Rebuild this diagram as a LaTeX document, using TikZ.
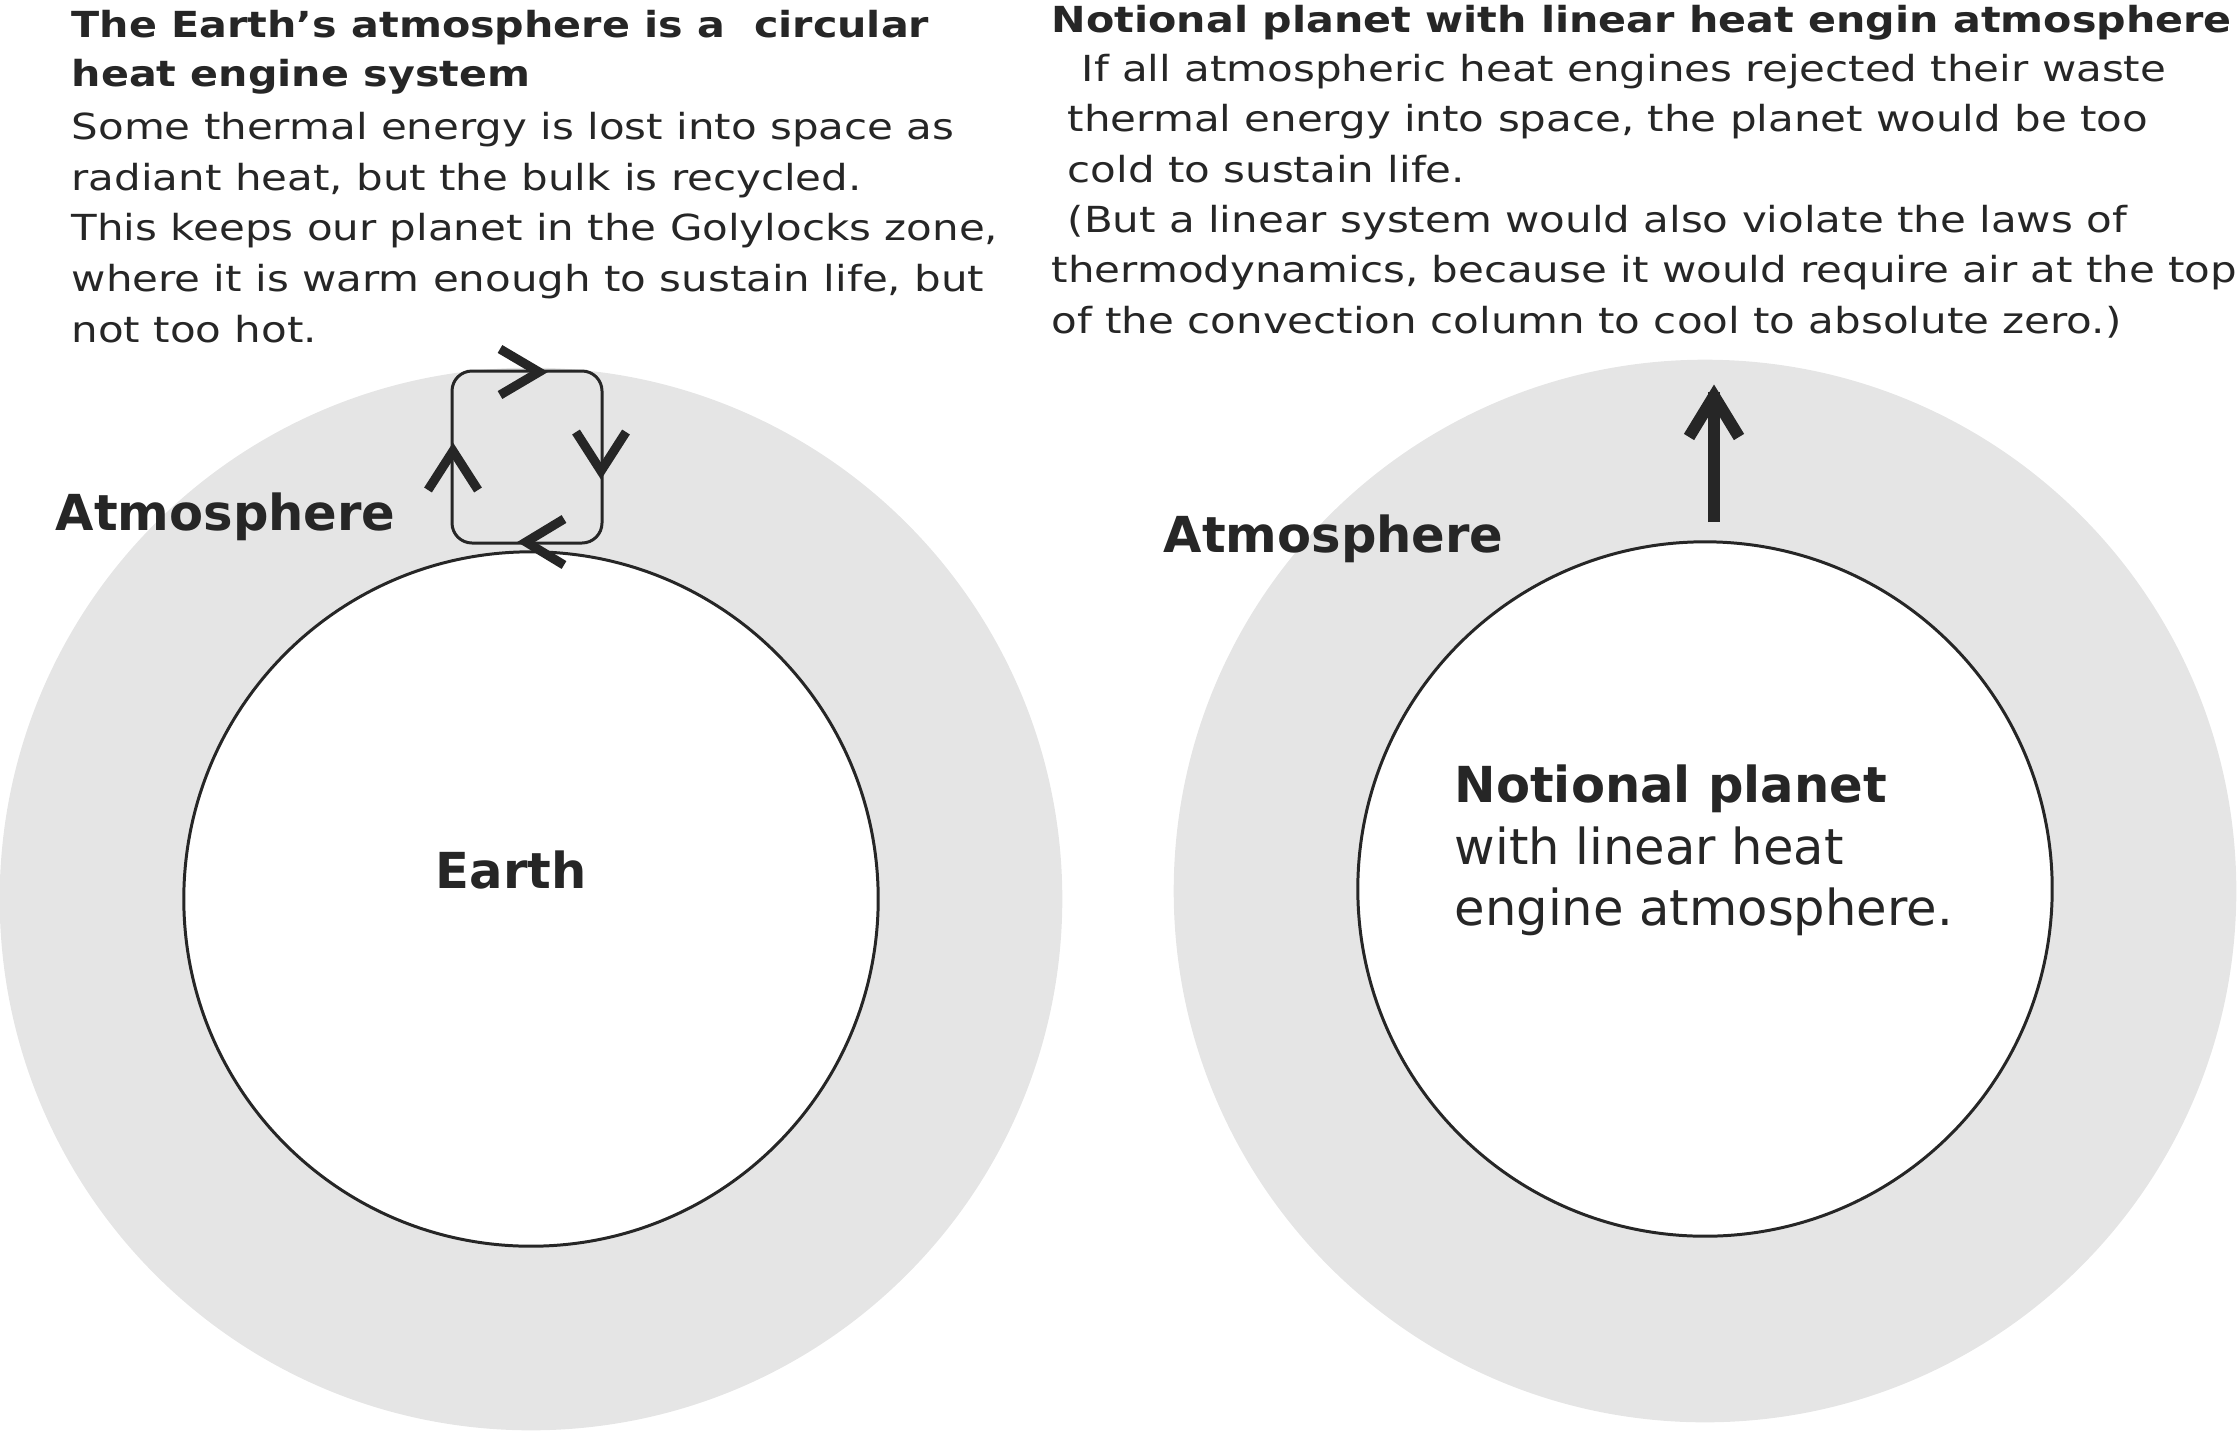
\documentclass[tikz,border=0pt]{standalone}
\usepackage{fontspec}
\setmainfont{DejaVu Sans}
\newfontfamily\widebody[FakeStretch=1.17]{DejaVu Sans}
\newfontfamily\widehead[FakeStretch=1.15]{DejaVu Sans}
\usepackage{tikz}

\definecolor{ink}{HTML}{262626}
\definecolor{airgray}{HTML}{E5E5E5}

\tikzset{
  air/.style={circle, fill=airgray, draw=none, inner sep=0pt, minimum size=10.62cm},
  globe/.style={circle, draw=ink, fill=white, line width=0.85pt, inner sep=0pt, minimum size=6.94cm},
  cyclebox/.style={draw=ink, line width=0.85pt, rounded corners=0.2cm},
  chevron/.style={draw=ink, line width=2.6pt},
  rise/.style={draw=ink, line width=3.4pt},
  body/.style={font=\widebody\fontsize{10.2pt}{14.4pt}\selectfont, text=ink, inner sep=0pt, align=left, anchor=base west},
  heading/.style={font=\widehead\fontsize{10.2pt}{14.2pt}\selectfont\bfseries, text=ink, inner sep=0pt, align=left, anchor=base west},
  biglabel/.style={font=\fontsize{14.1pt}{17.35pt}\selectfont\bfseries, text=ink, inner sep=0pt, anchor=base west}
}

\begin{document}
\begin{tikzpicture}[x=0.01cm, y=-0.01cm]
    \useasboundingbox (0,0) rectangle (2237,1430);

    % circular heat engine
    \node[air] (airL) at (531,899) {};
    \node[globe] (earth) at (531,899) {};
    \draw[cyclebox] (452,371) rectangle (602,543);
    \draw[chevron] (500,349) -- (539,372) -- (500,395);
    \draw[chevron] (576,432) -- (601,471) -- (626,432);
    \draw[chevron] (564,519) -- (526,542) -- (564,565);
    \draw[chevron] (428,490) -- (453,451) -- (478,490);

    % base anchor = baseline of the last line
    \node[heading] (titleL) at (71,87) {The Earth’s atmosphere is a~ circular\\heat engine system};
    \node[body] (textL) at (71,342) {Some thermal energy is lost into space as\\radiant heat, but the bulk is recycled.\\This keeps our planet in the Golylocks zone,\\where it is warm enough to sustain life, but\\not too hot.};
    \node[biglabel] (atmoL) at (55,530) {Atmosphere};
    \node[biglabel] (earthname) at (435,888) {Earth};

    % linear heat engine
    \node[air] (airR) at (1705,891) {};
    \node[globe] (planet) at (1705,889) {};
    \coordinate (risefoot) at (1714,522);
    \coordinate (risetop) at (1714,392);
    \draw[rise] (risefoot) -- (risetop);
    \draw[rise] (1689,437) -- (1714,396) -- (1739,437);

    \node[heading] (titleR) at (1051,32) {Notional planet with linear heat engin atmosphere};
    \node[body, font=\widebody\fontsize{10.2pt}{14.3pt}\selectfont] (textR) at (1051,333) {\hspace*{0.3cm}If all atmospheric heat engines rejected their waste\\\hspace*{0.16cm}thermal energy into space, the planet would be too\\\hspace*{0.16cm}cold to sustain life.\\\hspace*{0.16cm}(But a linear system would also violate the laws of\\thermodynamics, because it would require air at the top\\of the convection column to cool to absolute zero.)};
    \node[biglabel] (atmoR) at (1163,552) {Atmosphere};
    \node[biglabel, align=left, font=\fontsize{14.1pt}{17.35pt}\selectfont] (planetname) at (1454,925) {\textbf{Notional planet}\\with linear heat\\engine atmosphere.};

\end{tikzpicture}
\end{document}
